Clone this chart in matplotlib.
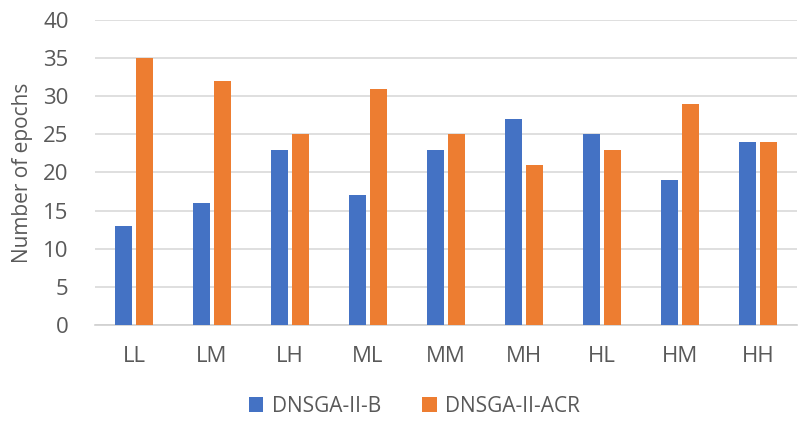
import numpy as np
import matplotlib
matplotlib.use("Agg")
from matplotlib import pyplot as plt

# Data
categories = ["LL", "LM", "LH", "ML", "MM", "MH", "HL", "HM", "HH"]
dnsga_b = [13, 16, 23, 17, 23, 27, 25, 19, 24]
dnsga_acr = [35, 32, 25, 31, 25, 21, 23, 29, 24]

plt.rcParams['font.family'] = ['Open Sans', 'DejaVu Sans']
grey = '#595959'

fig = plt.figure(figsize=(8.03, 4.23), dpi=100)
ax = fig.add_axes([95 / 803, 1 - 325 / 423, 702 / 803, 305 / 423])

x = np.arange(len(categories))
w = 0.22
gap = 0.025
ax.bar(x - w / 2 - gap, dnsga_b, w, color='#4472C4', label='DNSGA-II-B', zorder=3)
ax.bar(x + w / 2 + gap, dnsga_acr, w, color='#ED7D31', label='DNSGA-II-ACR', zorder=3)

ax.set_xlim(-0.5, len(categories) - 0.5)
ax.set_ylim(0, 40)
ax.set_yticks(range(0, 41, 5))
ax.set_xticks(x)
ax.set_xticklabels(categories)
ax.grid(axis='y', color='#d9d9d9', linewidth=1.2, zorder=0)
for s in ['top', 'right', 'left']:
    ax.spines[s].set_visible(False)
ax.spines['bottom'].set_color('#d0d0d0')
ax.spines['bottom'].set_linewidth(1.2)
ax.tick_params(axis='both', length=0, colors=grey, labelsize=16)
ax.tick_params(axis='x', pad=15)
ax.tick_params(axis='y', pad=19)
ax.set_ylabel("Number of epochs", color=grey, fontsize=15, labelpad=7)

ax.legend(loc='upper center', bbox_to_anchor=(0.455, -0.185), ncol=2, frameon=False,
          fontsize=15, labelcolor=grey, handlelength=0.7, handleheight=0.7,
          columnspacing=2.0, handletextpad=0.4, borderpad=0.2)

fig.savefig("out.png", dpi=100)
